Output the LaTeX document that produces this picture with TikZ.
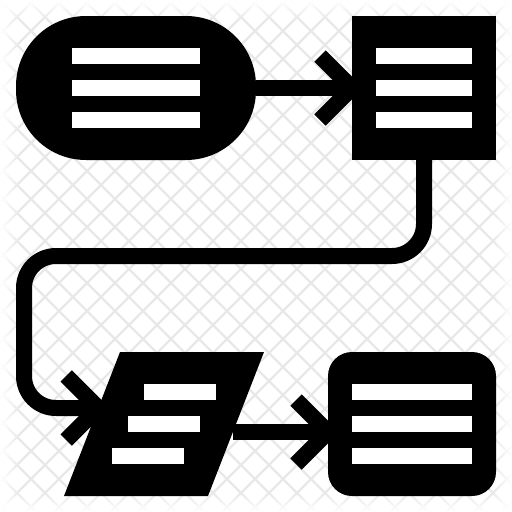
\documentclass[tikz,border=0pt]{standalone}
\usetikzlibrary{calc, fadings}
\tikzset{
box/.style={fill=black, inner sep=0pt, outer sep=0pt}, % filled flowchart shapes
bar/.style={fill=white}, % text lines inside the shapes
wire/.style={draw=black, line width=16pt}, % thick connectors
grid line/.style={draw=black!9, line width=2.2pt},
}
\tikzfading[name=fromleft, left color=transparent!0, right color=transparent!100]
\tikzfading[name=fromright, left color=transparent!100, right color=transparent!0]
\tikzfading[name=fromtop, top color=transparent!0, bottom color=transparent!100]
\tikzfading[name=frombottom, top color=transparent!100, bottom color=transparent!0]

\begin{document}
\begin{tikzpicture}[x=1pt, y=-1pt]
        \useasboundingbox (0,0) rectangle (512,512);
        % checkered background
        \begin{scope}
          \clip (0,0) rectangle (512,512);
          \foreach \c in {6,34,...,1042}
            \draw[grid line] (\c,0) -- ++(-512,512);
          \foreach \c in {-532,-504,...,504}
            \draw[grid line] (\c,0) -- ++(512,512);
          \fill[white, path fading=fromleft] (0,0) rectangle (20,512);
          \fill[white, path fading=fromright] (492,0) rectangle (512,512);
          \fill[white, path fading=fromtop] (0,0) rectangle (512,20);
          \fill[white, path fading=frombottom] (0,492) rectangle (512,512);
        \end{scope}

        \node[box, minimum width=240pt, minimum height=144pt, rounded corners=70pt] (start) at (136,88) {};
        \node[box, minimum size=144pt] (proc) at (424,88) {};
        \node[box, minimum size=144pt, xslant=0.3889, transform shape] (io) at (164,424) {};
        \node[box, minimum width=168pt, minimum height=144pt, rounded corners=24pt] (stop) at (412,424) {};

        \foreach \dy in {-32,0,32} {
          \fill[bar] ([shift={(-64,\dy-8)}]start.center) rectangle ([shift={(64,\dy+8)}]start.center);
          \fill[bar] ([shift={(-48,\dy-8)}]proc.center) rectangle ([shift={(48,\dy+8)}]proc.center);
          \fill[bar] ([shift={(-60,\dy-8)}]stop.center) rectangle ([shift={(60,\dy+8)}]stop.center);
        }
        \foreach \i in {-1,0,1}
          \fill[bar] ([shift={(-36-16*\i,32*\i-8)}]io.center) rectangle ([shift={(36-16*\i,32*\i+8)}]io.center);

        \coordinate (ioin) at ($(io.south west)!0.6111!(io.north west)$);
        \coordinate (ioout) at ($(io.south east)!0.4444!(io.north east)$);
        \coordinate (stopin) at (ioout -| stop.west);
        \coordinate (turn1) at (424,256);
        \coordinate (turn2) at (24,256);
        \coordinate (turn3) at (24,408);

        \draw[wire] (start.east) -- (proc.west);
        \draw[wire, rounded corners=32pt] (proc.south) -- (turn1) -- (turn2) -- (turn3) -- (ioin);
        \draw[wire] (ioout) -- (stopin);

        % arrow heads
        \draw[wire] ([shift={(-32,-32)}]proc.west) -- (proc.west) -- ([shift={(-32,32)}]proc.west);
        \draw[wire] ([shift={(-32,-32)}]ioin) -- (ioin) -- ([shift={(-32,32)}]ioin);
        \draw[wire] ([shift={(-32,-32)}]stopin) -- (stopin) -- ([shift={(-32,32)}]stopin);
      \end{tikzpicture}
\end{document}
